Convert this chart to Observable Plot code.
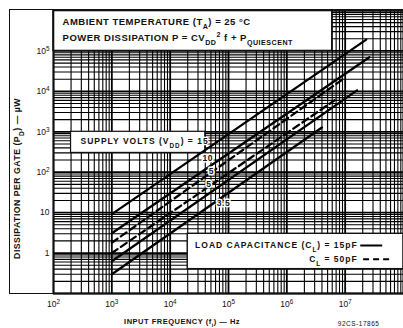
<!DOCTYPE html>
<html>
<head>
<meta charset="utf-8">
<script src="https://cdn.jsdelivr.net/npm/d3@7"></script>
<script src="https://cdn.jsdelivr.net/npm/@observablehq/plot@0.6"></script>
<style>
  html, body { margin: 0; padding: 0; background: white; }
  #wrap { position: relative; width: 403px; height: 328px; overflow: hidden; }
  #outer { position: absolute; left: 9px; top: 9px; width: 400px; height: 285px;
           border: 1.5px solid #111; border-right: none; box-sizing: border-box; pointer-events: none; }
</style>
</head>
<body>
<div id="wrap"><div id="outer"></div></div>
<script>
// ---- data ----
const xTicks = [1e2, 1e3, 1e4, 1e5, 1e6, 1e7];
const xTickLabels = ["10^{2}", "10^{3}", "10^{4}", "10^{5}", "10^{6}", "10^{7}"];
const yTicks = [1, 10, 1e2, 1e3, 1e4, 1e5];
const yTickLabels = ["1", "10", "10^{2}", "10^{3}", "10^{4}", "10^{5}"];

const seriesVdd = [15, 10, 5, 3.5, 5, 3.5];
const seriesCap = [15, 15, 50, 50, 15, 15];       // pF
const startF = [1e3, 1e3, 1e3, 1e3, 1e3, 1e3];     // Hz
const startP = [9.2, 3.1, 1.8, 1.0, 0.63, 0.30];   // µW
const endF = [2.3e7, 2.6e7, 8.7e6, 6.6e6, 1.6e7, 4e6];
const endP = [1.9e5, 7e4, 1.9e4, 6e3, 1.06e4, 1.28e3];

const voltLabels = ["10", "5", "5", "3.5"];
const voltLabelF = [4.4e4, 5.1e4, 4.6e4, 8.2e4];
const voltLabelP = [220, 105, 50, 17];

// ---- build table ----
const rows = [];
seriesVdd.forEach((v, i) => {
  rows.push({id: i, vdd: v, cap: seriesCap[i], f: startF[i], p: startP[i]});
  rows.push({id: i, vdd: v, cap: seriesCap[i], f: endF[i], p: endP[i]});
});
const solidRows = rows.filter(d => d.cap === 15);
const dashRows = rows.filter(d => d.cap === 50);

// grid positions (log grid)
const xMinor = [], yMinor = [];
for (let e = 2; e < 8; e++) for (let m = 2; m <= 9; m++) xMinor.push(m * 10 ** e);
for (let e = -1; e < 6; e++) for (let m = 2; m <= 9; m++) yMinor.push(m * 10 ** e);
const xMajor = [1e2, 1e3, 1e4, 1e5, 1e6, 1e7, 1e8];
const yMajor = [0.1, 1, 10, 1e2, 1e3, 1e4, 1e5, 1e6];

const font = "Liberation Sans, Arial, sans-serif";

const chart = Plot.plot({
  width: 403,
  height: 328,
  marginLeft: 53,
  marginRight: 0,
  marginTop: 10,
  marginBottom: 35,
  style: {background: "transparent", fontFamily: font, color: "#111"},
  x: {type: "log", domain: [1e2, 1e8], ticks: xTicks, tickFormat: (d) => xTickLabels[xTicks.indexOf(d)] ?? "",
      tickSize: 0, tickPadding: 7, label: null},
  y: {type: "log", domain: [0.1, 1e6], ticks: yTicks, tickFormat: (d) => yTickLabels[yTicks.indexOf(d)] ?? "",
      tickSize: 0, tickPadding: 4, label: null},
  marks: [
    Plot.ruleX(xMinor, {stroke: "#000", strokeWidth: 1.1}),
    Plot.ruleY(yMinor, {stroke: "#000", strokeWidth: 1.1}),
    Plot.ruleX(xMajor, {stroke: "#000", strokeWidth: 1.8}),
    Plot.ruleY(yMajor, {stroke: "#000", strokeWidth: 1.8}),
    // white annotation boxes
    Plot.rect([0], {x1: 1e2, x2: 6e6, y1: 1e5, y2: 1e6, fill: "white", stroke: "#111", strokeWidth: 1.4}),
    Plot.rect([0], {x1: 200, x2: 4e4, y1: 300, y2: 1000, fill: "white", stroke: "#111", strokeWidth: 1.2}),
    Plot.rect([0], {x1: 2e4, x2: 1e8, y1: 0.4, y2: 3, fill: "white", stroke: "#111", strokeWidth: 1.4}),
    // curves
    Plot.line(solidRows, {x: "f", y: "p", z: "id", stroke: "#000", strokeWidth: 2.3}),
    Plot.line(dashRows, {x: "f", y: "p", z: "id", stroke: "#000", strokeWidth: 2.3, strokeDasharray: "7,4"}),
    // title box text
    Plot.text(["AMBIENT TEMPERATURE (T_{A}) = 25 °C"], {x: 143, y: 5.1e5, text: d => d, textAnchor: "start",
      fontSize: 9.5, fontWeight: "bold"}),
    Plot.text(["POWER DISSIPATION P = CV_{DD}^{2} f + P_{QUIESCENT}"], {x: 143, y: 2.05e5, text: d => d, textAnchor: "start",
      fontSize: 9.5, fontWeight: "bold"}),
    Plot.text(["SUPPLY VOLTS (V_{DD}) = 15"], {x: 290, y: 578, text: d => d, textAnchor: "start",
      fontSize: 8.5, fontWeight: "bold", stroke: "white", strokeWidth: 2.5, paintOrder: "stroke", fill: "#111"}),
    Plot.text(voltLabels, {x: (d, i) => voltLabelF[i], y: (d, i) => voltLabelP[i], text: d => d,
      fontSize: 8.5, fontWeight: "bold", stroke: "white", strokeWidth: 3, paintOrder: "stroke", fill: "#111"}),
    // legend
    Plot.text(["LOAD CAPACITANCE (C_{L}) = 15pF"], {x: 1.64e7, y: 1.54, text: d => d, textAnchor: "end",
      fontSize: 8.5, fontWeight: "bold"}),
    Plot.text(["C_{L} = 50pF"], {x: 1.64e7, y: 0.70, text: d => d, textAnchor: "end",
      fontSize: 8.5, fontWeight: "bold"}),
    Plot.ruleY([1.54], {x1: 1.85e7, x2: 4.4e7, stroke: "#000", strokeWidth: 2}),
    Plot.ruleY([0.70], {x1: 2.07e7, x2: 6.5e7, stroke: "#000", strokeWidth: 2, strokeDasharray: "6,4"}),
    // axis titles
    Plot.text(["DISSIPATION PER GATE (P_{D}) — µW"], {x: 10 ** 1.38, y: 70, rotate: -90,
      text: d => d, fontSize: 8.7, fontWeight: "bold", clip: false}),
    Plot.text(["INPUT FREQUENCY (f_{i}) — Hz"], {frameAnchor: "bottom", x: 1.6e4, dy: 30,
      text: d => d, fontSize: 7.5, fontWeight: "bold"}),
    Plot.text(["92CS-17865"], {frameAnchor: "bottom", x: 1.7e7, dy: 32,
      text: d => d, fontSize: 6.5}),
    Plot.frame({stroke: "#111", strokeWidth: 1.6})
  ]
});

// sub/superscript markup -> tspans
function markup(svg) {
  const NS = "http://www.w3.org/2000/svg";
  svg.querySelectorAll("text").forEach(t => {
    const s = t.textContent;
    if (!/[_^]\{/.test(s)) return;
    while (t.firstChild) t.removeChild(t.firstChild);
    const add = (txt, kind) => {
      const ts = document.createElementNS(NS, "tspan");
      ts.textContent = txt;
      if (kind) {
        ts.setAttribute("baseline-shift", kind === "_" ? "sub" : "super");
        ts.setAttribute("font-size", "75%");
      }
      t.appendChild(ts);
    };
    const re = /([_^])\{([^}]*)\}/g;
    let last = 0, m;
    while ((m = re.exec(s))) {
      if (m.index > last) add(s.slice(last, m.index), null);
      add(m[2], m[1]);
      last = re.lastIndex;
    }
    if (last < s.length) add(s.slice(last), null);
  });
}
markup(chart);
chart.querySelectorAll("text").forEach(t => {
  const s = t.textContent;
  t.style.letterSpacing = /^(SUPPLY|LOAD|CL)/.test(s) ? "1px" : "0.5px";
});
chart.querySelectorAll('g[aria-label="x-axis tick label"] text, g[aria-label="y-axis tick label"] text')
  .forEach(t => { t.setAttribute("font-size", "8.5"); t.style.letterSpacing = "0px"; });
document.getElementById("wrap").prepend(chart);
</script>
</body>
</html>
